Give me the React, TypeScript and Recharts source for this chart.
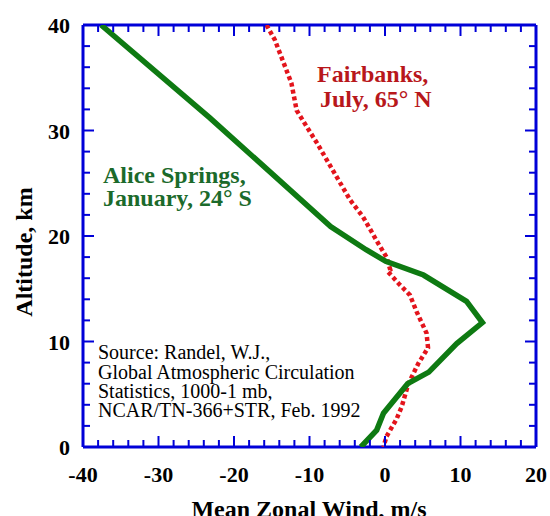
import React from "react";
import { ScatterChart, Scatter, XAxis, YAxis } from "recharts";

// Alice Springs, January (24° S) — wind (m/s) vs altitude (km)
const aliceWind = [-37.6, -23.2, -7.2, -2.5, 0.1, 5.1, 10.8, 12.9, 9.5, 5.8, 3.0, -0.2, -1.1, -3.2];
const aliceAlt = [40, 31.2, 20.9, 18.7, 17.6, 16.3, 13.8, 11.8, 9.8, 7.1, 6.0, 3.2, 1.6, 0];

// Fairbanks, July (65° N)
const fairWind = [-15.7, -14.6, -12.4, -11.7, -10.4, -9.0, -7.7, -6.4, -4.6, -2.9, -0.9, 0.2, 0.7, 0.4, 1.8, 3.3, 4.2, 5.5, 5.7, 4.4, 3.1, 2.2, 1.5, 0.2, -0.2];
const fairAlt = [40, 38.6, 34.5, 31.9, 30.4, 28.8, 27.2, 25.6, 23.4, 21.8, 19.3, 18.0, 16.8, 16.6, 15.5, 14.4, 12.8, 10.8, 9.4, 7.9, 6.0, 3.8, 2.6, 1.0, 0];

const xDomain = [-40, 20];
const yDomain = [0, 40];
const xTicks = Array.from({ length: 31 }, (_, i) => -40 + i * 2);
const yTicks = Array.from({ length: 21 }, (_, i) => i * 2);

const alice = aliceWind.map((u, i) => ({ u, z: aliceAlt[i] }));
const fair = fairWind.map((u, i) => ({ u, z: fairAlt[i] }));

const BLUE = "#0000d8";
const serif = "'Liberation Serif', 'Times New Roman', serif";

const tickLen = (v: number) => (v % 10 === 0 ? 11 : 7);

const BottomTick = ({ x, y, payload }: any) => {
  const v = payload.value;
  return (
    <g>
      <line x1={x} x2={x} y1={y} y2={y - tickLen(v)} stroke={BLUE} strokeWidth={2} />
      {v % 10 === 0 && (
        <text x={x} y={y + 35} textAnchor="middle" fontFamily={serif} fontWeight="bold" fontSize={22} fill="#000">
          {v}
        </text>
      )}
    </g>
  );
};

const TopTick = ({ x, y, payload }: any) => (
  <line x1={x} x2={x} y1={y} y2={y + tickLen(payload.value)} stroke={BLUE} strokeWidth={2} />
);

const LeftTick = ({ x, y, payload }: any) => {
  const v = payload.value;
  return (
    <g>
      <line x1={x} x2={x + tickLen(v)} y1={y} y2={y} stroke={BLUE} strokeWidth={2} />
      {v % 10 === 0 && (
        <text x={x - 13} y={y + 8} textAnchor="end" fontFamily={serif} fontWeight="bold" fontSize={22} fill="#000">
          {v}
        </text>
      )}
    </g>
  );
};

const RightTick = ({ x, y, payload }: any) => (
  <line x1={x} x2={x - tickLen(payload.value)} y1={y} y2={y} stroke={BLUE} strokeWidth={2} />
);

const NoDot = () => <g />;

const label = (extra: React.CSSProperties): React.CSSProperties => ({
  position: "absolute",
  fontFamily: serif,
  whiteSpace: "nowrap",
  lineHeight: 1,
  margin: 0,
  ...extra,
});

const axisLine = { stroke: BLUE, strokeWidth: 3 };

export default function App() {
  return (
    <div style={{ position: "absolute", left: 0, top: 0, width: 550, height: 516, background: "#fff", overflow: "hidden" }}>
      <ScatterChart width={550} height={516} margin={{ top: 24, right: 13, bottom: 68, left: 82 }}>
        <XAxis
          xAxisId="b"
          type="number"
          dataKey="u"
          domain={xDomain}
          ticks={xTicks}
          interval={0}
          height={1}
          tickSize={0}
          tickMargin={0}
          tickLine={false}
          axisLine={axisLine}
          tick={<BottomTick />}
          allowDataOverflow
        />
        <XAxis
          xAxisId="t"
          orientation="top"
          type="number"
          dataKey="u"
          domain={xDomain}
          ticks={xTicks}
          interval={0}
          height={1}
          tickSize={0}
          tickMargin={0}
          tickLine={false}
          axisLine={axisLine}
          tick={<TopTick />}
          allowDataOverflow
        />
        <YAxis
          yAxisId="l"
          type="number"
          dataKey="z"
          domain={yDomain}
          ticks={yTicks}
          interval={0}
          width={1}
          tickSize={0}
          tickMargin={0}
          tickLine={false}
          axisLine={axisLine}
          tick={<LeftTick />}
          allowDataOverflow
        />
        <YAxis
          yAxisId="r"
          orientation="right"
          type="number"
          dataKey="z"
          domain={yDomain}
          ticks={yTicks}
          interval={0}
          width={1}
          tickSize={0}
          tickMargin={0}
          tickLine={false}
          axisLine={axisLine}
          tick={<RightTick />}
          allowDataOverflow
        />
        <Scatter
          xAxisId="b"
          yAxisId="l"
          data={fair}
          line={{ stroke: "#e3141c", strokeWidth: 4.5, strokeDasharray: "4 3" }}
          lineType="joint"
          shape={<NoDot />}
          isAnimationActive={false}
        />
        <Scatter
          xAxisId="b"
          yAxisId="l"
          data={alice}
          line={{ stroke: "#0e7a12", strokeWidth: 5.5, strokeLinejoin: "miter" }}
          lineType="joint"
          shape={<NoDot />}
          isAnimationActive={false}
        />
        <Scatter
          xAxisId="t"
          yAxisId="r"
          data={alice}
          shape={<NoDot />}
          isAnimationActive={false}
        />
      </ScatterChart>

      <div style={label({ left: 17, top: -19, fontSize: 20 })}>cooler down.</div>

      <div style={label({ left: 103, top: 163, fontSize: 24, fontWeight: "bold", color: "#1b6a2b" })}>Alice Springs,</div>
      <div style={label({ left: 103, top: 186, fontSize: 24, fontWeight: "bold", color: "#1b6a2b" })}>January, 24° S</div>

      <div style={label({ left: 317, top: 62, fontSize: 24, fontWeight: "bold", color: "#b8171b" })}>Fairbanks,</div>
      <div style={label({ left: 320, top: 87, fontSize: 24, fontWeight: "bold", color: "#b8171b" })}>July, 65° N</div>

      <div style={label({ left: 98, top: 342, fontSize: 20, color: "#000" })}>Source: Randel, W.J.,</div>
      <div style={label({ left: 98, top: 362, fontSize: 20, color: "#000" })}>Global Atmospheric Circulation</div>
      <div style={label({ left: 98, top: 381, fontSize: 20, color: "#000" })}>Statistics, 1000-1 mb,</div>
      <div style={label({ left: 98, top: 400, fontSize: 20, color: "#000" })}>NCAR/TN-366+STR, Feb. 1992</div>

      <div style={label({ left: 309, top: 497, fontSize: 24, fontWeight: "bold", transform: "translateX(-50%)" })}>
        Mean Zonal Wind, m/s
      </div>
      <div
        style={label({
          left: 24,
          top: 252,
          fontSize: 24,
          fontWeight: "bold",
          transform: "translate(-50%, -50%) rotate(-90deg)",
        })}
      >
        Altitude, km
      </div>
    </div>
  );
}
